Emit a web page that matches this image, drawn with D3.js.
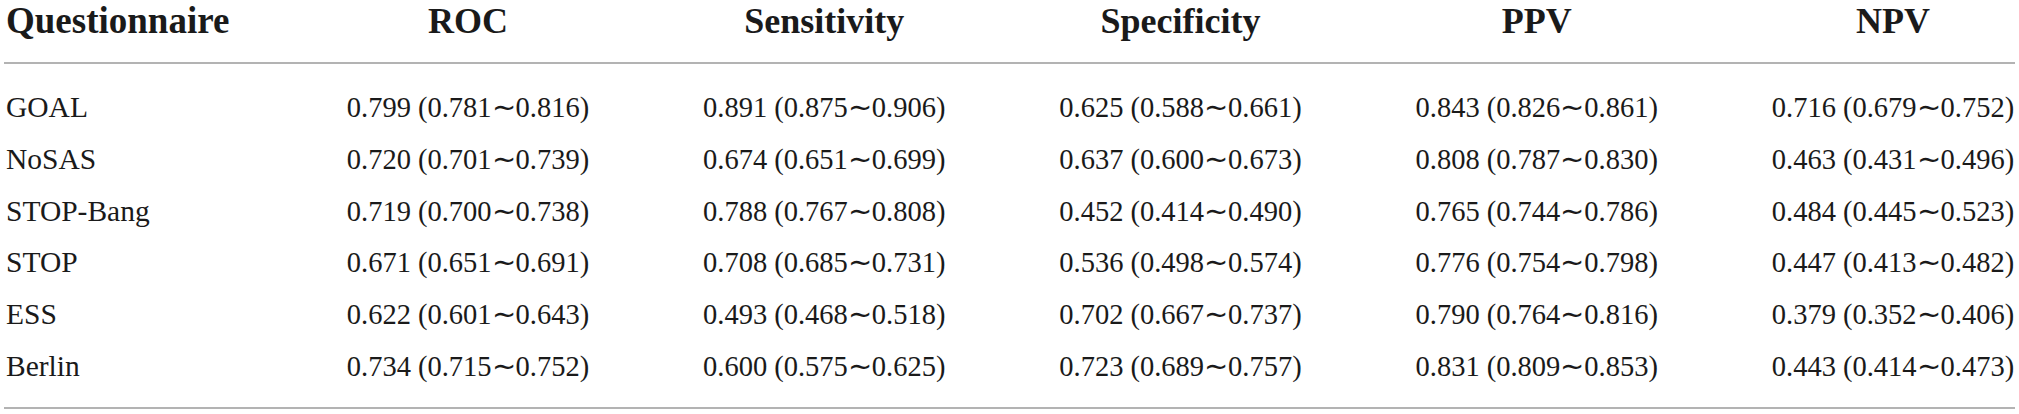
<!DOCTYPE html>
<html>
<head>
<meta charset="utf-8">
<script src="https://cdn.jsdelivr.net/npm/d3@7"></script>
<style>
  body { margin: 0; background: #fff; }
  svg { display: block; }
</style>
</head>
<body>
<svg width="2019" height="414"></svg>
<script>
// table content: estimate (lower ~ upper)
var questionnaires = ["GOAL", "NoSAS", "STOP-Bang", "STOP", "ESS", "Berlin"];
var metrics = ["ROC", "Sensitivity", "Specificity", "PPV", "NPV"];

var roc = [[0.799, 0.781, 0.816], [0.720, 0.701, 0.739], [0.719, 0.700, 0.738],
           [0.671, 0.651, 0.691], [0.622, 0.601, 0.643], [0.734, 0.715, 0.752]];
var sensitivity = [[0.891, 0.875, 0.906], [0.674, 0.651, 0.699], [0.788, 0.767, 0.808],
                   [0.708, 0.685, 0.731], [0.493, 0.468, 0.518], [0.600, 0.575, 0.625]];
var specificity = [[0.625, 0.588, 0.661], [0.637, 0.600, 0.673], [0.452, 0.414, 0.490],
                   [0.536, 0.498, 0.574], [0.702, 0.667, 0.737], [0.723, 0.689, 0.757]];
var ppv = [[0.843, 0.826, 0.861], [0.808, 0.787, 0.830], [0.765, 0.744, 0.786],
           [0.776, 0.754, 0.798], [0.790, 0.764, 0.816], [0.831, 0.809, 0.853]];
var npv = [[0.716, 0.679, 0.752], [0.463, 0.431, 0.496], [0.484, 0.445, 0.523],
           [0.447, 0.413, 0.482], [0.379, 0.352, 0.406], [0.443, 0.414, 0.473]];

var columns = [roc, sensitivity, specificity, ppv, npv];

var svg = d3.select("svg");
var fmt = d3.format(".3f");
var font = "'Liberation Serif', 'Times New Roman', serif";

var x = d3.scalePoint().domain(metrics).range([468, 1893]);
var y = d3.scalePoint().domain(questionnaires).range([117, 376]);

var headerY = 33;
var ruleColor = "#9a9a9a";

// header
svg.append("text")
    .attr("x", 6)
    .attr("y", headerY)
    .attr("font-family", font)
    .attr("font-weight", "bold")
    .attr("font-size", 37)
    .attr("fill", "#1a1a1a")
    .text("Questionnaire");

svg.selectAll(".head")
    .data(metrics)
    .enter().append("text")
    .attr("class", "head")
    .attr("x", function (d) { return x(d); })
    .attr("y", headerY)
    .attr("text-anchor", "middle")
    .attr("font-family", font)
    .attr("font-weight", "bold")
    .attr("font-size", 36)
    .attr("fill", "#1a1a1a")
    .text(function (d) { return d; });

// rules
svg.selectAll(".rule")
    .data([63, 408])
    .enter().append("line")
    .attr("class", "rule")
    .attr("x1", 4)
    .attr("x2", 2015)
    .attr("y1", function (d) { return d; })
    .attr("y2", function (d) { return d; })
    .attr("stroke", ruleColor)
    .attr("stroke-width", 1.6);

// row labels
svg.selectAll(".rowlab")
    .data(questionnaires)
    .enter().append("text")
    .attr("class", "rowlab")
    .attr("x", 6)
    .attr("y", function (d) { return y(d); })
    .attr("font-family", font)
    .attr("font-size", 29.5)
    .attr("fill", "#1a1a1a")
    .text(function (d) { return d; });

// cells
var cells = [];
metrics.forEach(function (m, j) {
    columns[j].forEach(function (v, i) {
        cells.push({ metric: m, row: questionnaires[i], v: v });
    });
});

svg.selectAll(".cell")
    .data(cells)
    .enter().append("text")
    .attr("class", "cell")
    .attr("x", function (d) { return x(d.metric); })
    .attr("y", function (d) { return y(d.row); })
    .attr("text-anchor", "middle")
    .attr("font-family", font)
    .attr("font-size", 28.5)
    .attr("fill", "#1a1a1a")
    .text(function (d) {
        return fmt(d.v[0]) + " (" + fmt(d.v[1]) + "\u223C" + fmt(d.v[2]) + ")";
    });
</script>
</body>
</html>
